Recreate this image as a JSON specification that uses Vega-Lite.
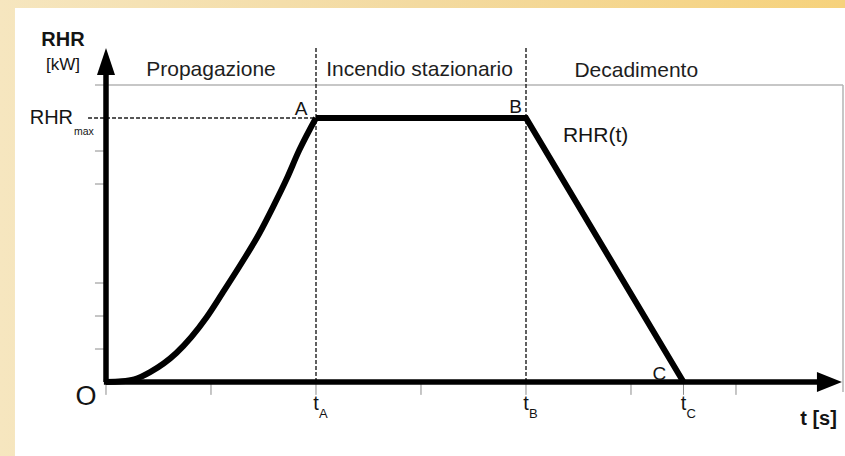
{
  "$schema": "https://vega.github.io/schema/vega-lite/v6.json",
  "width": 845,
  "height": 456,
  "autosize": {"type": "fit", "contains": "padding"},
  "padding": 0,
  "background": "#f4dfa6",
  "config": {
    "view": {"stroke": null},
    "font": "Liberation Sans",
    "text": {"font": "Liberation Sans", "color": "#141414", "baseline": "alphabetic"}
  },
  "datasets": {
    "growth": [
      {"t": 0, "q": 0},
      {"t": 0.15, "q": 0.02},
      {"t": 0.27, "q": 0.08},
      {"t": 0.42, "q": 0.3},
      {"t": 0.67, "q": 0.88},
      {"t": 0.96, "q": 1.97},
      {"t": 1.11, "q": 2.7},
      {"t": 1.3, "q": 3.65},
      {"t": 1.46, "q": 4.5},
      {"t": 1.59, "q": 5.3},
      {"t": 1.72, "q": 6.15},
      {"t": 1.84, "q": 7.02},
      {"t": 2, "q": 8}
    ],
    "steadyDecay": [
      {"t": 2, "q": 8},
      {"t": 4, "q": 8},
      {"t": 5.5, "q": 0}
    ],
    "yticks": [{"q": 1}, {"q": 2}, {"q": 3}, {"q": 6}, {"q": 7}],
    "xticks": [{"t": 0}, {"t": 1}, {"t": 2}, {"t": 3}, {"t": 4}, {"t": 5}, {"t": 5.5}, {"t": 6}],
    "phases": [
      {"t": 2, "q": 0},
      {"t": 4, "q": 0}
    ],
    "timeMarks": [
      {"t": 2, "sub": "A"},
      {"t": 4, "sub": "B"},
      {"t": 5.5, "sub": "C"}
    ],
    "notes": [
      {"kind": "phase", "label": "Propagazione", "t": 1.0, "q": 9.27},
      {"kind": "phase", "label": "Incendio stazionario", "t": 2.986, "q": 9.27},
      {"kind": "phase", "label": "Decadimento", "t": 5.05, "q": 9.24},
      {"kind": "axisname", "label": "RHR", "t": -0.41, "q": 10.17},
      {"kind": "axisname", "label": "t [s]", "t": 6.786, "q": -1.3},
      {"kind": "unit", "label": "[kW]", "t": -0.41, "q": 9.45},
      {"kind": "rhrmax", "label": "RHR", "t": -0.314, "q": 7.82},
      {"kind": "sub", "label": "max", "t": -0.305, "q": 7.48},
      {"kind": "point", "label": "A", "t": 1.857, "q": 8.09},
      {"kind": "point", "label": "B", "t": 3.9, "q": 8.15},
      {"kind": "point", "label": "C", "t": 5.271, "q": 0.06},
      {"kind": "curve", "label": "RHR(t)", "t": 4.352, "q": 7.27},
      {"kind": "origin", "label": "O", "t": -0.19, "q": -0.7}
    ]
  },
  "layer": [
    {
      "description": "warm backdrop",
      "data": {"values": [{}]},
      "mark": {
        "type": "rect",
        "fill": {
          "gradient": "linear", "x1": 0, "y1": 0, "x2": 1, "y2": 0,
          "stops": [
            {"offset": 0, "color": "#f6e6bf"},
            {"offset": 0.5, "color": "#f3daa0"},
            {"offset": 1, "color": "#f6d27c"}
          ]
        }
      },
      "encoding": {
        "x": {"datum": -1.0095, "type": "quantitative", "scale": {"domain": [-1.0095, 7.0381], "nice": false, "zero": false}, "axis": null},
        "x2": {"datum": 7.0381},
        "y": {"datum": -2.2424, "type": "quantitative", "scale": {"domain": [-2.2424, 11.5758], "nice": false, "zero": false}, "axis": null},
        "y2": {"datum": 11.5758}
      }
    },
    {
      "description": "white sheet",
      "data": {"values": [{}]},
      "mark": {"type": "rect", "fill": "#ffffff"},
      "encoding": {
        "x": {"datum": -0.867, "type": "quantitative"},
        "x2": {"datum": 7.0381},
        "y": {"datum": -2.2424, "type": "quantitative"},
        "y2": {"datum": 11.33}
      }
    },
    {
      "description": "frame: top edge",
      "data": {"values": [{}]},
      "mark": {"type": "rule", "color": "#b4b4b4", "strokeWidth": 1.5},
      "encoding": {
        "x": {"datum": -0.105, "type": "quantitative"},
        "x2": {"datum": 7.019},
        "y": {"datum": 9, "type": "quantitative"}
      }
    },
    {
      "description": "frame: right edge",
      "data": {"values": [{}]},
      "mark": {"type": "rule", "color": "#b4b4b4", "strokeWidth": 1.5},
      "encoding": {
        "x": {"datum": 7.019, "type": "quantitative"},
        "y": {"datum": -0.3, "type": "quantitative"},
        "y2": {"datum": 9}
      }
    },
    {
      "description": "y ticks",
      "data": {"name": "yticks"},
      "mark": {"type": "rule", "color": "#8c8c8c", "strokeWidth": 1},
      "encoding": {
        "x": {"datum": -0.105, "type": "quantitative"},
        "x2": {"datum": 0},
        "y": {"field": "q", "type": "quantitative"}
      }
    },
    {
      "description": "x ticks",
      "data": {"name": "xticks"},
      "mark": {"type": "rule", "color": "#8c8c8c", "strokeWidth": 1},
      "encoding": {
        "x": {"field": "t", "type": "quantitative"},
        "y": {"datum": -0.39, "type": "quantitative"},
        "y2": {"datum": 0}
      }
    },
    {
      "description": "phase boundaries",
      "data": {"name": "phases"},
      "mark": {"type": "rule", "color": "#1e1e1e", "strokeWidth": 1.4, "strokeDash": [4, 2]},
      "encoding": {
        "x": {"field": "t", "type": "quantitative"},
        "y": {"field": "q", "type": "quantitative"},
        "y2": {"datum": 10.15}
      }
    },
    {
      "description": "RHRmax guide",
      "data": {"values": [{"q": 8}]},
      "mark": {"type": "rule", "color": "#1e1e1e", "strokeWidth": 1.4, "strokeDash": [4, 2]},
      "encoding": {
        "x": {"datum": -0.171, "type": "quantitative"},
        "x2": {"datum": 2},
        "y": {"field": "q", "type": "quantitative"}
      }
    },
    {
      "description": "vertical axis shaft",
      "data": {"values": [{}]},
      "mark": {"type": "rule", "color": "#000000", "strokeWidth": 5.5},
      "encoding": {
        "x": {"datum": 0, "type": "quantitative"},
        "y": {"datum": 0, "type": "quantitative"},
        "y2": {"datum": 9.5}
      }
    },
    {
      "description": "horizontal axis shaft",
      "data": {"values": [{}]},
      "mark": {"type": "rule", "color": "#000000", "strokeWidth": 5.5},
      "encoding": {
        "x": {"datum": -0.02, "type": "quantitative"},
        "x2": {"datum": 6.8},
        "y": {"datum": 0, "type": "quantitative"}
      }
    },
    {
      "description": "vertical arrowhead",
      "data": {"values": [{}]},
      "mark": {"type": "point", "shape": "M0,-1L-0.667,1L0.667,1Z", "size": 729, "filled": true, "fill": "#000000", "opacity": 1, "strokeWidth": 0},
      "encoding": {
        "x": {"datum": 0, "type": "quantitative"},
        "y": {"datum": 9.71, "type": "quantitative"}
      }
    },
    {
      "description": "horizontal arrowhead",
      "data": {"values": [{}]},
      "mark": {"type": "point", "shape": "M1,0L-1,-0.8L-1,0.8Z", "size": 625, "filled": true, "fill": "#000000", "opacity": 1, "strokeWidth": 0},
      "encoding": {
        "x": {"datum": 6.89, "type": "quantitative"},
        "y": {"datum": 0, "type": "quantitative"}
      }
    },
    {
      "description": "RHR(t): growth phase",
      "data": {"name": "growth"},
      "mark": {"type": "line", "color": "#000000", "strokeWidth": 6, "interpolate": "monotone", "strokeCap": "butt"},
      "encoding": {
        "x": {"field": "t", "type": "quantitative"},
        "y": {"field": "q", "type": "quantitative"}
      }
    },
    {
      "description": "RHR(t): steady burning and decay",
      "data": {"name": "steadyDecay"},
      "mark": {"type": "line", "color": "#000000", "strokeWidth": 6, "strokeJoin": "miter", "strokeCap": "butt"},
      "encoding": {
        "x": {"field": "t", "type": "quantitative"},
        "y": {"field": "q", "type": "quantitative"}
      }
    },
    {
      "description": "phase names",
      "data": {"name": "notes"},
      "transform": [{"filter": "datum.kind === 'phase'"}],
      "mark": {"type": "text", "fontSize": 21, "align": "center", "color": "#1e1e1e"},
      "encoding": {
        "x": {"field": "t", "type": "quantitative"},
        "y": {"field": "q", "type": "quantitative"},
        "text": {"field": "label"}
      }
    },
    {
      "description": "axis names",
      "data": {"name": "notes"},
      "transform": [{"filter": "datum.kind === 'axisname'"}],
      "mark": {"type": "text", "fontSize": 20, "fontWeight": "bold", "align": "center"},
      "encoding": {
        "x": {"field": "t", "type": "quantitative"},
        "y": {"field": "q", "type": "quantitative"},
        "text": {"field": "label"}
      }
    },
    {
      "description": "unit",
      "data": {"name": "notes"},
      "transform": [{"filter": "datum.kind === 'unit'"}],
      "mark": {"type": "text", "fontSize": 17, "align": "center"},
      "encoding": {
        "x": {"field": "t", "type": "quantitative"},
        "y": {"field": "q", "type": "quantitative"},
        "text": {"field": "label"}
      }
    },
    {
      "description": "RHRmax label",
      "data": {"name": "notes"},
      "transform": [{"filter": "datum.kind === 'rhrmax'"}],
      "mark": {"type": "text", "fontSize": 20, "align": "right"},
      "encoding": {
        "x": {"field": "t", "type": "quantitative"},
        "y": {"field": "q", "type": "quantitative"},
        "text": {"field": "label"}
      }
    },
    {
      "description": "subscript max",
      "data": {"name": "notes"},
      "transform": [{"filter": "datum.kind === 'sub'"}],
      "mark": {"type": "text", "fontSize": 10.5, "align": "left"},
      "encoding": {
        "x": {"field": "t", "type": "quantitative"},
        "y": {"field": "q", "type": "quantitative"},
        "text": {"field": "label"}
      }
    },
    {
      "description": "curve points",
      "data": {"name": "notes"},
      "transform": [{"filter": "datum.kind === 'point'"}],
      "mark": {"type": "text", "fontSize": 19, "align": "center"},
      "encoding": {
        "x": {"field": "t", "type": "quantitative"},
        "y": {"field": "q", "type": "quantitative"},
        "text": {"field": "label"}
      }
    },
    {
      "description": "curve name",
      "data": {"name": "notes"},
      "transform": [{"filter": "datum.kind === 'curve'"}],
      "mark": {"type": "text", "fontSize": 21, "align": "left"},
      "encoding": {
        "x": {"field": "t", "type": "quantitative"},
        "y": {"field": "q", "type": "quantitative"},
        "text": {"field": "label"}
      }
    },
    {
      "description": "origin",
      "data": {"name": "notes"},
      "transform": [{"filter": "datum.kind === 'origin'"}],
      "mark": {"type": "text", "fontSize": 27, "align": "center"},
      "encoding": {
        "x": {"field": "t", "type": "quantitative"},
        "y": {"field": "q", "type": "quantitative"},
        "text": {"field": "label"}
      }
    },
    {
      "description": "time marks: t",
      "data": {"name": "timeMarks"},
      "mark": {"type": "text", "fontSize": 20, "align": "center", "text": "t"},
      "encoding": {
        "x": {"field": "t", "type": "quantitative"},
        "y": {"datum": -0.85, "type": "quantitative"}
      }
    },
    {
      "description": "time marks: subscripts",
      "data": {"name": "timeMarks"},
      "mark": {"type": "text", "fontSize": 13, "align": "left", "dx": 3},
      "encoding": {
        "x": {"field": "t", "type": "quantitative"},
        "y": {"datum": -1.09, "type": "quantitative"},
        "text": {"field": "sub"}
      }
    }
  ]
}
